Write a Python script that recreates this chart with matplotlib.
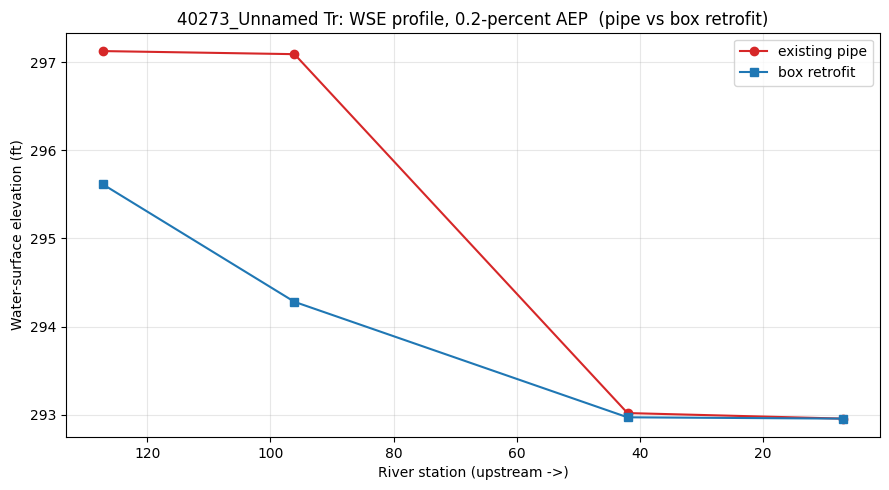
import matplotlib
matplotlib.use("Agg")
import matplotlib.pyplot as plt

stations = [127.2, 96.1, 42.0, 7.0]
existing_pipe = [297.125, 297.09, 293.018, 292.955]
box_retrofit = [295.612, 294.28, 292.97, 292.955]

fig, ax = plt.subplots(figsize=(8.89, 4.9), dpi=100)
ax.plot(stations, existing_pipe, marker="o", color="#d62728", label="existing pipe")
ax.plot(stations, box_retrofit, marker="s", color="#1f77b4", label="box retrofit")
ax.invert_xaxis()
ax.set_xlabel("River station (upstream ->)")
ax.set_ylabel("Water-surface elevation (ft)")
ax.set_title("40273_Unnamed Tr: WSE profile, 0.2-percent AEP  (pipe vs box retrofit)")
ax.grid(True, alpha=0.3)
ax.legend()
fig.subplots_adjust(left=66/889, right=880/889, top=1-32.7/490, bottom=1-437/490)
fig.savefig("out.png", dpi=100)
